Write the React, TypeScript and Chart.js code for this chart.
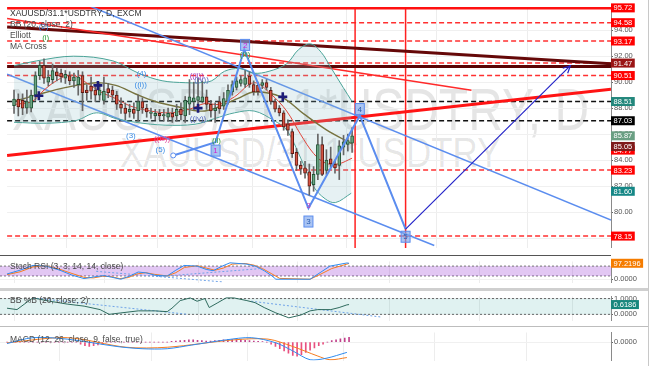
import React, { useEffect, useRef } from "react";
import { Chart, registerables } from "chart.js";
Chart.register(...registerables);

const FONT = "'Liberation Sans', Arial, sans-serif";
const X_MIN = -1.62;
const X_MAX = 139.5;
const AXIS_W = 37;
const GRID_X = [1.8, 22.6, 44.3, 67, 88.4, 109.2, 130.7];

// ---- candles (daily) ----
const opens = [88.2, 88.7, 88.6, 88.0, 88.0, 89.0, 90.5, 91.3, 90.0, 90.2, 90.8, 90.7, 90.3, 90.5, 90.1, 89.8, 90.5, 89.4, 89.7, 89.4, 89.0, 88.6, 89.5, 89.4, 89.0, 88.3, 88.0, 87.7, 87.9, 87.8, 88.5, 88.0, 87.6, 87.4, 87.6, 87.4, 87.3, 87.6, 87.4, 87.9, 87.4, 88.3, 88.5, 88.6, 88.5, 88.87, 88.29, 87.8, 88.5, 88.15, 88.51, 89.24, 89.6, 89.9, 89.82, 90.47, 89.82, 89.75, 89.75, 89.96, 89.38, 88.51, 88.0, 87.64, 86.8, 86.2, 84.6, 83.6, 83.4, 83.1, 82.1, 82.9, 85.2, 83.2, 84.1, 83.7, 83.6, 85.0, 85.2, 85.3];
const highs = [89.4, 89.1, 89.1, 89.4, 89.4, 90.8, 91.6, 91.8, 90.9, 91.4, 91.1, 91.0, 90.9, 90.8, 90.7, 90.9, 90.8, 89.8, 90.4, 89.8, 89.9, 90.4, 89.9, 89.7, 89.3, 88.8, 88.4, 88.3, 88.4, 89.0, 88.8, 88.3, 88.0, 87.9, 87.9, 87.9, 88.0, 88.0, 88.3, 88.4, 88.9, 90.2, 90.0, 90.3, 90.1, 89.4, 88.6, 88.4, 88.9, 89.2, 89.8, 90.1, 90.4, 90.5, 90.9, 90.8, 90.1, 90.0, 90.2, 90.2, 89.6, 88.7, 88.2, 87.8, 87.1, 86.4, 84.9, 83.9, 83.9, 83.7, 83.5, 86.0, 85.8, 84.8, 85.0, 84.0, 85.5, 85.9, 86.0, 86.5];
const lows = [87.6, 87.4, 87.5, 87.6, 87.7, 88.6, 90.2, 89.9, 89.7, 89.9, 90.1, 90.0, 89.9, 89.8, 89.6, 89.0, 87.8, 88.6, 88.7, 88.5, 88.6, 88.3, 88.8, 88.6, 87.9, 87.6, 87.1, 87.3, 87.2, 87.0, 87.6, 87.3, 87.2, 87.1, 87.1, 87.0, 87.0, 86.9, 87.0, 87.1, 86.9, 87.5, 87.9, 88.2, 88.4, 87.9, 87.3, 86.9, 87.6, 87.9, 88.3, 89.0, 89.4, 89.7, 89.6, 89.6, 89.0, 89.0, 89.5, 89.4, 88.3, 87.7, 87.4, 86.3, 85.9, 84.2, 83.2, 82.9, 82.6, 81.3, 81.6, 82.5, 82.8, 82.9, 83.4, 83.0, 82.5, 84.4, 84.7, 84.6];
const closes = [88.7, 88.1, 88.0, 88.5, 89.0, 90.5, 91.3, 90.3, 90.4, 90.9, 90.5, 90.4, 90.6, 90.1, 90.4, 90.4, 89.2, 89.2, 89.3, 89.0, 89.4, 89.3, 89.2, 89.0, 88.3, 88.0, 87.6, 87.9, 87.6, 88.5, 88.0, 87.7, 87.7, 87.6, 87.4, 87.5, 87.6, 87.3, 87.9, 87.5, 88.6, 88.87, 88.8, 88.9, 88.87, 88.29, 87.78, 88.0, 87.95, 88.73, 89.38, 89.82, 90.11, 90.2, 90.33, 89.82, 89.24, 89.24, 89.96, 89.6, 88.51, 87.93, 87.64, 86.55, 86.3, 84.5, 83.6, 83.3, 83.0, 82.0, 82.9, 85.2, 82.9, 84.0, 83.7, 83.4, 85.1, 85.4, 85.5, 85.87];

// ---- overlays [index, price] ----
const bbUpper = [[0, 91.27], [5.3, 91.64], [13.9, 92.0], [23.1, 91.64], [29.1, 90.69], [34.6, 90.11], [40, 89.96], [43.4, 89.96], [46.2, 90.11], [49.2, 90.84], [52.7, 91.05], [56.1, 90.69], [59.6, 90.84], [63.7, 91.42], [66.5, 92.51], [69.3, 92.95], [71.8, 92.29], [73.9, 91.2], [76.9, 89.6], [79, 88.51]];
const bbLower = [[0, 86.91], [7.6, 86.84], [14.5, 87.05], [19.2, 87.64], [23.8, 87.2], [28.4, 86.91], [35.3, 86.69], [42.3, 86.76], [46.9, 87.2], [51.5, 87.64], [56.1, 87.78], [60.7, 87.05], [63.7, 86.33], [67, 84.15], [70, 81.96], [72.7, 81.02], [75.1, 80.73], [78.8, 81.45]];
const maFast = [[0, 88.29], [4.2, 88.51], [6.5, 89.24], [9.9, 90.11], [13.4, 90.55], [16.9, 89.96], [20.3, 89.24], [23.8, 88.73], [27.3, 88.15], [31.9, 87.78], [36.5, 87.64], [41.1, 87.93], [44.6, 88.36], [48, 88.29], [51.5, 88.87], [56.1, 89.96], [60, 89.09], [63.7, 87.78], [67, 85.96], [70, 84.51], [72.7, 83.78], [75.8, 83.71], [79, 84.15]];
const maSlow = [[0, 88.51], [5.3, 89.02], [12.2, 89.6], [19.2, 89.96], [23.8, 89.75], [28.4, 89.09], [33, 88.51], [37.6, 88.15], [44.6, 87.78], [52.2, 88.73], [56.1, 89.24], [62.4, 88.87], [67.7, 87.56], [73, 86.33], [79, 85.24]];
const maCrosses = [[5.8, 88.95], [19.6, 89.75], [43, 88.0], [62.8, 88.87]];

const waveZigzag = [[37.2, 84.36], [47.1, 85.38], [53.8, 92.51], [68.8, 80.29], [80.8, 87.42], [91.5, 78.69]];
const projectionArrow = [[91.5, 78.69], [130, 91.27]];
const channelUpper = [[-1.62, 98.47], [139.5, 79.38]];
const channelLower = [[-1.62, 90.62], [98.2, 77.43]];
const trendRedThick = [[-1.62, 84.36], [139.5, 89.45]];
const trendRedThin = [[-1.62, 94.91], [106.9, 89.38]];
const trendMaroon = [[-1.62, 94.25], [139.5, 91.42]];
const maroonLevel = 91.2;
const topLevel = 95.72;
const redDashedLevels = [94.58, 93.17, 91.47, 90.51, 83.23, 78.15];
const blackDashedLevels = [88.51, 87.03];
const verticalMarks = [79.7, 91.5];

const waveTexts = [
  ["(2)", 6.9, 94.3, "#3d8ee6"], ["(i)", 7.4, 93.45, "#2e9e3e"], ["(4)", 29.8, 90.62, "#3d8ee6"],
  ["((i))", 29.6, 89.82, "#3d8ee6"], ["((ii))", 42.7, 90.5, "#9b3fc0"], ["((v))", 43.8, 90.2, "#5c6bc0"],
  ["((iv))", 43.0, 87.2, "#5c6bc0"], ["(3)", 27.3, 85.89, "#3d8ee6"], ["((iii))", 34.6, 85.67, "#e0409a"],
  ["(5)", 34.2, 84.8, "#3d8ee6"], ["(ii)", 47.3, 85.5, "#2e9e3e"], ["(iii)", 54, 92.1, "#2e9e3e"],
  ["3", 68.8, 80.5, "#c040c0"],
];
const waveBoxes = [["1", 47.1, 84.73, "#d020d0"], ["2", 54, 92.87, "#d020d0"], ["3", 68.8, 79.27, "#2a5db0"], ["4", 80.8, 87.93, "#2a5db0"], ["5", 91.5, 78.1, "#2a5db0"]];

const priceTicks = [78, 80, 82, 84, 86, 88, 90, 92, 94];
const priceTags = [
  [95.72, "#ff0000"], [94.58, "#ff0000"], [93.17, "#ff0000"], [91.47, "#9a1414"], [90.51, "#ff0000"],
  [88.51, "#23877c"], [87.03, "#000000"], [85.87, "#6a9f83"], [84.77, "#ff0000"], [85.05, "#7e1a1a"],
  [83.23, "#ff0000"], [81.60, "#158786"], [78.15, "#ff0000"],
];

// ---- Stoch RSI ----
const stochK = [[0, 32], [3, 55], [6, 84], [9, 80], [12.2, 55], [15, 25], [17.8, 4], [20.3, 15], [22.4, 22], [24.2, 12], [26.3, 0], [28.4, 20], [30.3, 44], [32.3, 38], [34.2, 24], [37, 20], [39, 55], [40.9, 84], [43.9, 80], [46, 60], [47.6, 52], [49.7, 80], [51.5, 100], [55.4, 92], [57.5, 78], [59.4, 52], [61.2, 20], [62.1, 0], [70, 0], [72.3, 40], [74.6, 80], [78.5, 99], [79, 97.2]];
const stochD = [[0, 28], [3, 45], [6, 75], [9, 82], [12, 62], [15, 35], [18, 10], [20, 8], [22, 18], [24, 16], [26, 4], [28, 10], [30, 32], [32, 40], [34, 30], [37, 20], [39, 40], [41, 72], [44, 82], [46, 68], [48, 55], [50, 68], [52, 92], [55, 96], [57, 86], [59, 65], [61, 35], [63, 5], [70, 0], [72, 25], [75, 65], [79, 96]];
const stochTrendA = [[20.6, 48], [49.6, -16]];
const stochTrendB = [[35, 16], [58.2, 64]];
const stochBand = [80, 20];
const stochLast = 97.2196;

// ---- BB %B ----
const pctB = [[0, 0.39], [2.3, 0.3], [5.1, 0.87], [6, 1.04], [9.9, 0.83], [13.9, 0.65], [17.8, 0.52], [21.5, 0.3], [23.6, 0.0], [26.3, 0.09], [30.3, 0.22], [34.2, 0.22], [37, 0.17], [38.1, 0.39], [40, 0.87], [42.3, 1.04], [43.9, 0.83], [45.7, 1.0], [46.7, 0.43], [48.7, 0.74], [50.6, 1.04], [52.4, 1.04], [55.4, 0.87], [57.3, 0.74], [59.4, 0.43], [62.1, 0.09], [65.1, -0.22], [67.9, -0.04], [70, 0.22], [71.8, 0.3], [74.8, 0.3], [76.7, 0.43], [78.5, 0.6], [79, 0.6186]];
const pctBTrendA = [[6, 1.04], [41.8, 0.0]];
const pctBTrendB = [[56.4, 0.83], [86.4, -0.17]];
const pctBLast = 0.6186;

// ---- MACD ----
const macdLine = [[0, -0.2], [6, 0.6], [13.9, 0.4], [25.4, -0.6], [31.2, -0.9], [37, -0.9], [42.7, -0.4], [50.6, 0.3], [56.4, 0.6], [62.1, -0.1], [66, -1.2], [70, -2.4], [73.7, -2.2], [78.5, -1.4]];
const signalLine = [[0, -0.1], [13.9, 0.6], [27.5, -0.7], [37, -0.7], [52.4, 0.3], [60.3, 0.4], [66, -0.6], [71.8, -1.9], [74.6, -2.4], [78.5, -2.1]];
const macdHist = [
  0, 0, 0, 0, 0, 0, 0, 0, 0, 0,
  0, 0, 0, 0, 0, 0, 0, -0.3, -0.5, -0.6,
  -0.5, -0.4, -0.3, 0, 0, 0, 0, 0, 0, 0,
  0, 0, 0, 0, 0, 0, 0, 0, 0.1, 0.15,
  0.2, 0.25, 0.3, 0.3, 0.25, 0.2, 0.15, 0.15, 0.2, 0.25,
  0.3, 0.35, 0.35, 0.3, 0.3, 0.25, 0.2, 0.15, 0.1, 0.05,
  0, -0.3, -0.6, -0.9, -1.2, -1.5, -1.8, -1.9, -1.7, -1.4,
  -1.1, -0.8, -0.5, -0.3, 0, 0.2, 0.3, 0.45, 0.55, 0.65,
];

// ---------------------------------------------------------------
const pts = (arr: number[][]) => arr.map(([x, y]) => ({ x, y }));
const hline = (v: number) => [{ x: X_MIN, y: v }, { x: X_MAX, y: v }];

const line = (data: any[], color: string, width: number, order: number, extra: any = {}) => ({
  type: "line", data, borderColor: color, borderWidth: width, pointRadius: 0, fill: false, order, ...extra,
});

const xAxis = () => ({
  type: "linear", min: X_MIN, max: X_MAX, offset: false,
  afterBuildTicks: (s: any) => { s.ticks = GRID_X.map((v) => ({ value: v })); },
  ticks: { display: false },
  grid: { color: "#ededed", drawTicks: false },
  border: { display: false },
});

const yAxis = (min: number, max: number, ticks: number[], digits: number) => ({
  type: "linear", position: "right", min, max,
  afterFit: (s: any) => { s.width = AXIS_W; },
  afterBuildTicks: (s: any) => { s.ticks = ticks.map((v) => ({ value: v })); },
  ticks: { callback: (v: any) => Number(v).toFixed(digits), color: "#555", font: { size: 7.5, family: FONT }, padding: 1 },
  grid: { color: "#f0f0f0", tickLength: 2, tickColor: "#666", drawTicks: true },
  border: { display: true, color: "#8a8a8a" },
});

const baseOptions = (y: any) => ({
  animation: false, responsive: false, maintainAspectRatio: false, events: [],
  layout: { padding: 0 },
  plugins: { legend: { display: false }, tooltip: { enabled: false } },
  scales: { x: xAxis(), y },
});

function drawTags(chart: any, tags: any[], digits: number) {
  const { ctx, chartArea } = chart;
  const ys = chart.scales.y;
  ctx.save();
  ctx.font = `7.5px ${FONT}`;
  ctx.textBaseline = "middle";
  ctx.textAlign = "left";
  for (const [v, bg] of tags) {
    const label = Number(v).toFixed(digits);
    const y = ys.getPixelForValue(v);
    const w = ctx.measureText(label).width + 5;
    ctx.fillStyle = bg;
    ctx.fillRect(chartArea.right, y - 4.5, w, 9);
    ctx.fillStyle = "#fff";
    ctx.fillText(label, chartArea.right + 2.5, y + 0.5);
  }
  ctx.restore();
}

const priceDecor = {
  id: "priceDecor",
  afterDatasetsDraw(chart: any) {
    const { ctx } = chart;
    const X = (v: number) => chart.scales.x.getPixelForValue(v);
    const Y = (v: number) => chart.scales.y.getPixelForValue(v);
    ctx.save();
    const [a, b] = projectionArrow;
    const x1 = X(a[0]), y1 = Y(a[1]), x2 = X(b[0]), y2 = Y(b[1]);
    const ang = Math.atan2(y2 - y1, x2 - x1);
    ctx.strokeStyle = "#2424c8";
    ctx.lineWidth = 1.2;
    ctx.beginPath();
    ctx.moveTo(x2 - 8 * Math.cos(ang - 0.45), y2 - 8 * Math.sin(ang - 0.45));
    ctx.lineTo(x2, y2);
    ctx.lineTo(x2 - 8 * Math.cos(ang + 0.45), y2 - 8 * Math.sin(ang + 0.45));
    ctx.stroke();
    ctx.font = `8px ${FONT}`;
    ctx.textAlign = "center";
    ctx.textBaseline = "middle";
    for (const [t, i, p, c] of waveTexts as any[]) {
      ctx.fillStyle = c;
      ctx.fillText(t, X(i), Y(p));
    }
    for (const [t, i, p, c] of waveBoxes as any[]) {
      const x = X(i), y = Y(p);
      ctx.fillStyle = "rgba(125,165,235,0.65)";
      ctx.fillRect(x - 4.5, y - 5.5, 9, 11);
      ctx.strokeStyle = "#5b8def";
      ctx.lineWidth = 1;
      ctx.strokeRect(x - 4.5, y - 5.5, 9, 11);
      ctx.fillStyle = c;
      ctx.fillText(t, x, y + 0.5);
    }
    ctx.restore();
  },
  afterDraw(chart: any) { drawTags(chart, priceTags, 2); },
};

function priceConfig() {
  const idx = opens.map((_, i) => i);
  const up = idx.map((i) => closes[i] >= opens[i]);
  const datasets: any[] = [
    { type: "scatter", data: pts(maCrosses), pointStyle: "cross", pointRadius: 4.5, pointBorderWidth: 2.6, pointBorderColor: "#1c1c78", borderColor: "#1c1c78", showLine: false, order: 1 },
    line(pts(projectionArrow), "#2424c8", 1.2, 2),
    line(pts(waveZigzag), "#5b8def", 2, 3, { pointRadius: (c: any) => (c.dataIndex === 0 ? 2.5 : 0), pointBackgroundColor: "#fff", pointBorderColor: "#5b8def", pointBorderWidth: 1 }),
    { type: "bar", data: idx.map((i) => ({ x: i, y: [opens[i], closes[i]] })), backgroundColor: up.map((u) => (u ? "#6ba583" : "#d75442")), borderColor: up.map((u) => (u ? "#225437" : "#5b1a13")), borderWidth: 1, borderSkipped: false, barThickness: 3, grouped: false, order: 4 },
    { type: "bar", data: idx.map((i) => ({ x: i, y: [lows[i], highs[i]] })), backgroundColor: "#666", barThickness: 1, grouped: false, order: 5 },
    line(pts(maFast), "#e0443a", 1, 6, { tension: 0.35 }),
    line(pts(maSlow), "#77733f", 1.4, 7, { tension: 0.35 }),
    line(pts(bbUpper), "#4aa397", 1, 8, { tension: 0.35, fill: "+1", backgroundColor: "rgba(140,190,200,0.22)" }),
    line(pts(bbLower), "#4aa397", 1, 9, { tension: 0.35 }),
    line(pts(channelUpper), "#5b8def", 1.5, 10),
    line(pts(channelLower), "#5b8def", 1.5, 11),
    line(pts(trendRedThick), "#ff1414", 3, 12),
    line(pts(trendRedThin), "#ff2a2a", 1.5, 13),
    line(pts(trendMaroon), "#650808", 3, 14),
    line(hline(maroonLevel), "#5a0404", 3, 15),
    line(hline(topLevel), "#ff1010", 3, 16),
    ...verticalMarks.map((v, k) => line([{ x: v, y: 70 }, { x: v, y: 100 }], "#ff2020", 1.5, 17 + k)),
    ...redDashedLevels.map((v, k) => line(hline(v), "#ff3030", 1.5, 20 + k, { borderDash: [5, 3] })),
    ...blackDashedLevels.map((v, k) => line(hline(v), "#111", 1.5, 30 + k, { borderDash: [5, 3] })),
  ];
  return {
    type: "line",
    data: { datasets },
    options: baseOptions(yAxis(77.24, 95.78, priceTicks, 2)),
    plugins: [priceDecor],
  };
}

function stochConfig() {
  return {
    type: "line",
    data: {
      datasets: [
        line(pts(stochK), "#2f8cf0", 1, 1),
        line(pts(stochD), "#f57c1f", 1, 2),
        line(pts(stochTrendA), "#6fa3e8", 1, 3, { borderDash: [2, 2] }),
        line(pts(stochTrendB), "#6fa3e8", 1, 4, { borderDash: [2, 2] }),
        line(hline(stochBand[0]), "#777", 1, 10, { borderDash: [2, 2], fill: { value: stochBand[1] }, backgroundColor: "rgba(160,70,215,0.3)" }),
        line(hline(stochBand[1]), "#777", 1, 11, { borderDash: [2, 2] }),
      ],
    },
    options: baseOptions(yAxis(-20, 108, [0], 4)),
    plugins: [{ id: "stochTag", afterDraw: (c: any) => drawTags(c, [[stochLast, "#f57c00"]], 4) }],
  };
}

function pctBConfig() {
  return {
    type: "line",
    data: {
      datasets: [
        line(pts(pctB), "#2f6b5e", 1, 1),
        line(pts(pctBTrendA), "#6fa3e8", 1, 2, { borderDash: [2, 2] }),
        line(pts(pctBTrendB), "#6fa3e8", 1, 3, { borderDash: [2, 2] }),
        line(hline(1), "#666", 1, 10, { borderDash: [2, 2], fill: { value: 0 }, backgroundColor: "rgba(38,166,154,0.14)" }),
        line(hline(0), "#666", 1, 11, { borderDash: [2, 2] }),
      ],
    },
    options: baseOptions(yAxis(-0.39, 1.13, [0, 1], 4)),
    plugins: [{ id: "pctBTag", afterDraw: (c: any) => drawTags(c, [[pctBLast, "#17877d"]], 4) }],
  };
}

function macdConfig() {
  const idx = macdHist.map((_, i) => i);
  return {
    type: "line",
    data: {
      datasets: [
        line(pts(macdLine), "#2f8cf0", 1, 1, { tension: 0.3 }),
        line(pts(signalLine), "#f57c1f", 1, 2, { tension: 0.3 }),
        { type: "bar", data: idx.map((i) => ({ x: i, y: macdHist[i] })), backgroundColor: macdHist.map((v) => (v >= 0 ? "#c0408a" : "#e8507f")), barThickness: 1, grouped: false, order: 3 },
      ],
    },
    options: baseOptions(yAxis(-2.5, 1.3, [0], 4)),
  };
}

function ChartCanvas({ make, top, height }: { make: () => any; top: number; height: number }) {
  const ref = useRef<HTMLCanvasElement | null>(null);
  useEffect(() => {
    if (!ref.current) return;
    const chart = new Chart(ref.current, make());
    return () => chart.destroy();
  }, []);
  return (
    <canvas ref={ref} width={648} height={height}
      style={{ position: "absolute", left: 0, top, width: 648, height, display: "block" }} />
  );
}

const legendStyle: any = { position: "absolute", left: 10, fontFamily: FONT, fontSize: 8.5, lineHeight: "11px", color: "#4a4a4a", whiteSpace: "nowrap" };

export default function App() {
  Chart.defaults.font.family = FONT;
  return (
    <div style={{ position: "relative", width: 654, height: 366, background: "#fff", overflow: "hidden" }}>
      <style>{`body{margin:0;}`}</style>
      <div style={{ position: "absolute", left: 12, top: 80, fontFamily: FONT, fontSize: 48, lineHeight: 1, color: "rgba(0,0,0,0.1)", transform: "scaleY(1.25)", transformOrigin: "top left", whiteSpace: "nowrap" }}>XAUUSD/31.1*USDTRY, D</div>
      <div style={{ position: "absolute", left: 120, top: 131, fontFamily: FONT, fontSize: 35, lineHeight: 1, color: "rgba(0,0,0,0.1)", transform: "scaleY(1.2)", transformOrigin: "top left", whiteSpace: "nowrap" }}>XAUUSD/31.1*USDTRY</div>
      <ChartCanvas make={priceConfig} top={0} height={255} />
      <div style={{ position: "absolute", left: 0, top: 255, width: 611, height: 1, background: "#555" }} />
      <ChartCanvas make={stochConfig} top={256} height={32} />
      <div style={{ position: "absolute", left: 0, top: 288, width: 648, height: 3, background: "#cfcfcf" }} />
      <ChartCanvas make={pctBConfig} top={291} height={35} />
      <div style={{ position: "absolute", left: 0, top: 326, width: 648, height: 1, background: "#bdbdbd" }} />
      <ChartCanvas make={macdConfig} top={327} height={39} />
      <div style={{ position: "absolute", left: 648, top: 0, width: 1, height: 366, background: "#c8c8c8" }} />
      <div style={{ ...legendStyle, top: 8 }}>
        <div style={{ color: "#333" }}>XAUUSD/31.1*USDTRY, D, EXCM</div>
        <div>BB (20, close, 2)</div>
        <div>Elliott</div>
        <div>MA Cross</div>
      </div>
      <div style={{ ...legendStyle, top: 261 }}>Stoch RSI (3, 3, 14, 14, close)</div>
      <div style={{ ...legendStyle, top: 295 }}>BB %B (20, close, 2)</div>
      <div style={{ ...legendStyle, top: 334 }}>MACD (12, 26, close, 9, false, true)</div>
    </div>
  );
}
